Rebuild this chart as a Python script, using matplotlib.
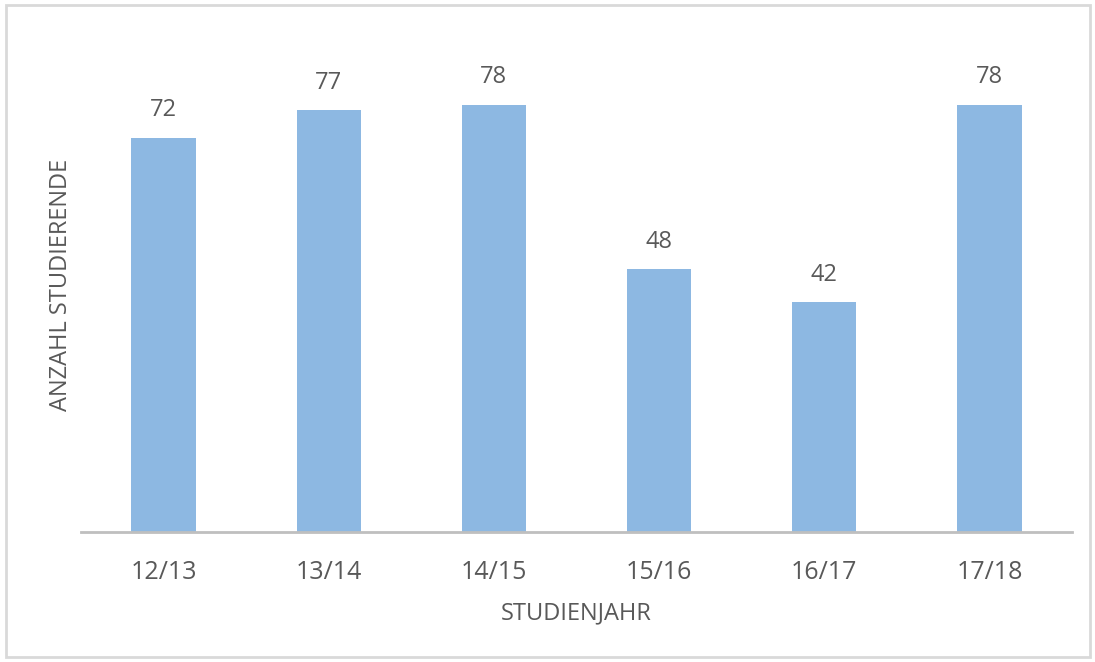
import matplotlib
matplotlib.use("Agg")
import matplotlib.pyplot as plt
from matplotlib.patches import Rectangle

categories = ["12/13", "13/14", "14/15", "15/16", "16/17", "17/18"]
values = [72, 77, 78, 48, 42, 78]

plt.rcParams['font.family'] = ['Open Sans', 'DejaVu Sans']
text_color = '#595959'

fig = plt.figure(figsize=(10.95, 6.62), dpi=100)
ax = fig.add_axes([81/1095, (662-532)/662, (1072-81)/1095, (532-39.3)/662])

x = range(len(categories))
bars = ax.bar(x, values, width=0.39, color='#8DB8E2', zorder=2)
for xi, v in zip(x, values):
    ax.annotate(str(v), (xi, v), xytext=(0, 15.5), textcoords='offset points',
                ha='center', va='baseline', fontsize=17, color=text_color)

ax.set_xlim(-0.5, len(categories) - 0.5)
ax.set_ylim(0, 90)
ax.set_xticks(list(x))
ax.set_xticklabels(categories, fontsize=18, color=text_color)
ax.tick_params(axis='x', length=0, pad=20)
ax.set_yticks([])
for s in ['top', 'right', 'left']:
    ax.spines[s].set_visible(False)
ax.spines['bottom'].set_color('#bfbfbf')
ax.spines['bottom'].set_linewidth(2)
ax.spines['bottom'].set_zorder(3)

ax.set_xlabel("STUDIENJAHR", fontsize=17, color=text_color, labelpad=12)
fig.text(61/1095, 1 - 285/662, "ANZAHL STUDIERENDE", rotation=90, fontsize=17,
         color=text_color, ha='center', va='center')

fig.patches.append(Rectangle((6/1095, 5/662), (1090-6)/1095, (657-5)/662,
                             transform=fig.transFigure, fill=False,
                             edgecolor='#d9d9d9', linewidth=2))

fig.savefig("out.png", dpi=100)
